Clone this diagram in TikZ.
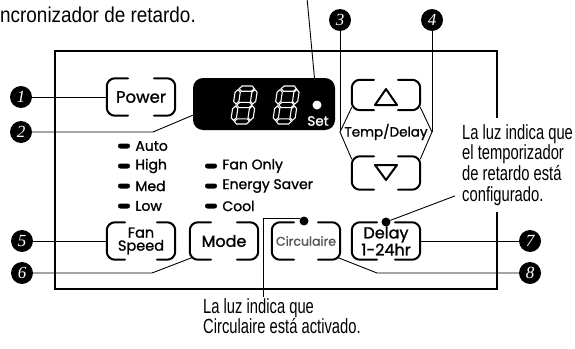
\documentclass[tikz,border=0pt]{standalone}
\usepackage{fontspec}
\setmainfont{Liberation Sans}
\newfontfamily\capfont{Liberation Sans}[FakeStretch=0.72]
\newfontfamily\topfont{Liberation Sans}[FakeStretch=0.88]
\newfontfamily\gefont{Poppins}[FakeBold=1.2]
\newfontfamily\numfont{Liberation Serif}
\usetikzlibrary{positioning,calc}

\definecolor{btngray}{RGB}{85,85,85}

\tikzset{
  panelline/.style={line width=2pt},
  btnline/.style={line width=2pt,rounded corners=8pt,line cap=round},
  leader/.style={line width=0.9pt},
  btn/.style={minimum width=68pt,minimum height=37pt,inner sep=0pt,align=center,
              font=\gefont\fontsize{16}{13.5}\selectfont},
  callout/.style={circle,fill=black,minimum size=22pt,inner sep=0pt,text=white,
                  font=\numfont\itshape\fontsize{17}{17}\selectfont},
  led/.style={rounded corners=2.4pt,fill=black,minimum width=12pt,minimum height=5pt,inner sep=0pt},
  dotled/.style={circle,fill=black,minimum size=9pt,inner sep=0pt},
  ledtext/.style={anchor=west,inner sep=0pt,font=\gefont\fontsize{14}{14}\selectfont},
  note/.style={align=left,inner sep=0pt,font=\capfont\fontsize{20.5}{20.8}\selectfont},
}

% bracket outline of a button, open in the middle of top and bottom
\newcommand\btnframe[2]{%
  \draw[btnline] ($(#1.north)+(-#2,0)$) -| (#1.south west) -- ($(#1.south)+(-#2,0)$);
  \draw[btnline] ($(#1.north)+(#2,0)$) -| (#1.south east) -- ($(#1.south)+(#2,0)$);
}

\begin{document}
\begin{tikzpicture}[x=1pt,y=-1pt]
  \useasboundingbox (0,0) rectangle (575,348);

  % Panel
  \draw[panelline] (55,51) rectangle (497,289);

  % Caption above (cut off)
  \node[font=\topfont\fontsize{21.5}{21}\selectfont,anchor=base west,inner sep=0pt] (note0) at (0,22)
    {ncronizador de retardo.};

  % Display
  \node[fill=black,rounded corners=10pt,minimum width=142pt,minimum height=52pt,inner sep=0pt]
    (disp) at (264,104) {};
  \foreach \dx in {0,42} {
    \begin{scope}[shift={(236+\dx,86)},xslant=0.15,seg/.style={draw=white,line width=1.1pt}]
      \foreach \y in {2.6,19,35.4}
        \draw[seg] (3.6,\y) -- (6.2,\y-2.6) -- (16.2,\y-2.6) -- (18.8,\y)
          -- (16.2,\y+2.6) -- (6.2,\y+2.6) -- cycle;
      \foreach \x in {2.6,19.4}
        \foreach \ya/\yb in {3.6/18,20/34.4}
          \draw[seg] (\x,\ya) -- (\x+2.6,\ya+2.6) -- (\x+2.6,\yb-2.6) -- (\x,\yb)
            -- (\x-2.6,\yb-2.6) -- (\x-2.6,\ya+2.6) -- cycle;
    \end{scope}
  }
  \node[circle,fill=white,minimum size=9pt,inner sep=0pt] (setled) at (317,105) {};
  \node[text=white,inner sep=0pt,font=\gefont\fontsize{13.5}{13}\selectfont] (settxt) at (318,121) {Set};

  % Power
  \node[btn,font=\gefont\fontsize{16.5}{13.5}\selectfont] (power) at (141,97) {Power};
  \btnframe{power}{13}

  % Temp/Delay
  \node[btn,minimum height=30pt] (up) at (386,95) {};
  \node[btn,minimum height=33pt] (down) at (386,173) {};
  \btnframe{up}{12}
  \btnframe{down}{12}
  \draw[line width=2pt,line join=round] ($(up)+(0,-6)$) -- ($(up)+(11,10)$) -- ($(up)+(-11,10)$) -- cycle;
  \draw[line width=2pt,line join=round] ($(down)+(0,7)$) -- ($(down)+(11,-8)$) -- ($(down)+(-11,-8)$) -- cycle;
  \node[inner sep=0pt,font=\gefont\fontsize{13.5}{13}\selectfont] (temp) at (386,132) {Temp/Delay};
  \coordinate (tipl) at (340,132);
  \coordinate (tipr) at (432,132);
  \draw[leader] ($(up.south west)+(0,-3)$) -- (tipl) -- ($(down.north west)+(0,3)$);
  \draw[leader] ($(up.south east)+(0,-3)$) -- (tipr) -- ($(down.north east)+(0,3)$);

  % Indicators
  \foreach \y/\t [count=\i] in {146/Auto,166/High,186/Med,206/Low} {
    \node[led] (ledl\i) at (124,\y) {};
    \node[ledtext,right=5pt of ledl\i] (ledlt\i) {\t};
  }
  \foreach \y/\t [count=\i] in {166/Fan Only,186/Energy Saver,206/Cool} {
    \node[led] (ledr\i) at (211,\y) {};
    \node[ledtext,right=5pt of ledr\i] (ledrt\i) {\t};
  }

  % Bottom row
  \node[btn,font=\gefont\fontsize{14.5}{13}\selectfont] (fan) at (141,241) {Fan\\Speed};
  \node[btn] (mode) at (224,241) {Mode};
  \node[btn,text=btngray,font=\gefont\fontsize{12.5}{13}\selectfont] (circ) at (306,241) {Circulaire};
  \node[btn] (delay) at (386,241) {Delay\\1-24hr};
  \btnframe{fan}{16}
  \btnframe{mode}{13}
  \btnframe{circ}{12}
  \btnframe{delay}{9}
  \node[dotled] (cled) at (304,221) {};
  \node[dotled] (dled) at (386,222) {};

  % Notes
  \node[note,anchor=north west,fill=white,inner xsep=3pt,inner ysep=6pt] (note1) at (459,118)
    {La luz indica que\\el temporizador\\de retardo está\\configurado.};
  \node[note,anchor=north west] (note2) at (203,298)
    {La luz indica que\\Circulaire está activado.};

  % Callouts
  \node[callout] (c1) at (21,97) {1};
  \node[callout] (c2) at (21,132) {2};
  \node[callout] (c3) at (340,20) {3};
  \node[callout] (c4) at (432,20) {4};
  \node[callout] (c5) at (22,241) {5};
  \node[callout] (c6) at (22,273) {6};
  \node[callout] (c7) at (530,241) {7};
  \node[callout] (c8) at (530,273) {8};
  \coordinate (k2) at (153,132);
  \coordinate (k6) at (152,273);
  \coordinate (k8) at (377,273);
  \coordinate (kc) at (263,297);
  \coordinate (topend) at (307,-2);

  \draw[leader] (c1) -- (power);
  \draw[leader] (c2) -- (k2) -- ($(disp.south west)+(0,-15)$);
  \draw[leader] (c3) -- (tipl);
  \draw[leader] (c4) -- (tipr);
  \draw[leader] (c5) -- (fan);
  \draw[leader] (c6) -- (k6) -- ($(mode.south west)+(2,-2)$);
  \draw[leader] (delay) -- (c7);
  \draw[leader] ($(circ.south east)+(-2,-2)$) -- (k8) -- (c8);
  \draw[leader] (setled) -- (topend);
  \draw[leader] (cled.150) -| (kc);
  \draw[leader] (dled) -- ($(note1.south west)+(-4,-16)$);
\end{tikzpicture}
\end{document}
